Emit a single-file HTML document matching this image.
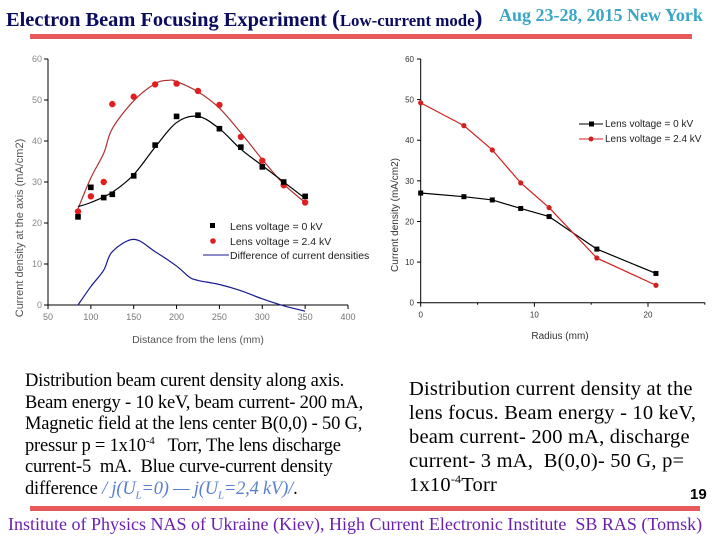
<!DOCTYPE html>
<html><head><meta charset="utf-8"><style>
body{margin:0;width:720px;height:540px;background:#fff;position:relative;overflow:hidden;font-family:"Liberation Serif",serif}
.abs{position:absolute;margin:0}
sup,sub{line-height:0}
</style></head><body>
<div class="abs" style="left:6px;top:6px;font-weight:bold;color:#0a0a5e;font-size:20px;white-space:nowrap;transform:scaleX(1.02);transform-origin:left top">Electron Beam Focusing Experiment <span style="font-size:23px">(</span><span style="font-size:16.5px">Low-current mode</span><span style="font-size:23px">)</span></div>
<div class="abs" style="left:499px;top:5px;font-weight:bold;color:#3aa6c8;font-size:18px;white-space:nowrap">Aug 23-28, 2015 New York</div>
<div class="abs" style="left:30px;top:34px;width:662px;height:5px;background:#e85a5a"></div>

<svg class="abs" style="left:0;top:45px" width="720" height="310">
<g id="left"></g>
<g id="right"></g>
</svg>

<div class="abs" style="left:25px;top:371px;font-size:18.5px;line-height:21.6px;color:#000;white-space:nowrap;letter-spacing:-0.2px">Distribution beam curent density along axis.<br>Beam energy - 10 keV, beam current- 200 mA,<br>Magnetic field at the lens center B(0,0) - 50 G,<br>pressur p = 1x10<sup style="font-size:11px">-4</sup> &nbsp; Torr, The lens discharge<br>current-5 &nbsp;mA. &nbsp;Blue curve-current density<br>difference <i style="color:#5a7fd0">/ j(U<sub style="font-size:11px">L</sub>=0) — j(U<sub style="font-size:11px">L</sub>=2,4 kV)/</i>.</div>
<div class="abs" style="left:409px;top:377px;font-size:20.5px;line-height:24px;color:#000;white-space:nowrap;letter-spacing:0.2px">Distribution current density at the<br>lens focus. Beam energy - 10 keV,<br>beam current- 200 mA, discharge<br>current- 3 mA, &nbsp;B(0,0)- 50 G, p=<br>1x10<sup style="font-size:12px">-4</sup>Torr</div>
<div class="abs" style="left:690px;top:486px;font-family:'Liberation Sans',sans-serif;font-weight:bold;font-size:15px">19</div>
<div class="abs" style="left:30px;top:506px;width:670px;height:5px;background:#e85a5a"></div>
<div class="abs" style="left:8px;top:514px;font-size:18px;color:#6a1fb0;white-space:nowrap">Institute of Physics NAS of Ukraine (Kiev), High Current Electronic Institute &nbsp;SB RAS (Tomsk)</div>

<script>
const NS='http://www.w3.org/2000/svg';
// Left chart data
const axialX=[85,100,115,125,150,175,200,225,250,275,300,325,350];
const axialBlack=[21.5,28.7,26.2,27,31.5,39,46,46.3,43,38.5,33.7,30,26.5];
const axialRed=[22.8,26.5,30,49,50.8,53.8,54,52.2,48.8,41,35.2,29.2,25];
const fitBlackX=[85,100,125,150,175,200,225,250,275,300,325,350];
const fitBlackY=[24,25,27.5,31.8,38.5,44.5,46,43,38,34,30,26];
const fitRedX=[85,100,115,125,150,175,190,200,225,250,275,300,325,350];
const fitRedY=[23.5,31,37,43,49.8,54,54.8,54.5,52,48,42,35.5,29.5,25];
const diffX=[85,100,115,125,150,175,200,215,225,250,275,300,325,350];
const diffY=[0,4.5,8.5,13,16,13,9.5,6.8,6,5,3.5,1.5,-0.2,-1.5];
const leftXTicks=[50,100,150,200,250,300,350,400];
const leftYTicks=[0,10,20,30,40,50,60];
// Right chart data
const radX=[0,3.8,6.3,8.8,11.3,15.5,20.7];
const radBlack=[27,26.1,25.3,23.2,21.2,13.2,7.2];
const radRed=[49.2,43.6,37.6,29.5,23.4,11,4.3];
const rightXTicks=[0,10,20];
const rightYTicks=[0,10,20,30,40,50,60];

function mk(p,t,a,txt){const e=document.createElementNS(NS,t);for(const k in a)e.setAttribute(k,a[k]);if(txt!==undefined)e.textContent=txt;p.appendChild(e);return e;}
const F='Liberation Sans, sans-serif';

function smooth(xs,ys,fx,fy){const P=xs.map((x,i)=>[fx(x),fy(ys[i])]);let d='M'+P[0][0]+','+P[0][1];for(let i=0;i<P.length-1;i++){const p0=P[i-1]||P[i],p1=P[i],p2=P[i+1],p3=P[i+2]||p2;const c1=[p1[0]+(p2[0]-p0[0])/6,p1[1]+(p2[1]-p0[1])/6],c2=[p2[0]-(p3[0]-p1[0])/6,p2[1]-(p3[1]-p1[1])/6];d+=' C'+c1+' '+c2+' '+p2;}return d;}

const L=document.getElementById('left');
const lx=v=>48+(v-50)*300/350, ly=v=>260-v*246/60;
let e=mk(L,'line',{x1:48,y1:ly(0),x2:48,y2:ly(60),stroke:'#000'});
e=mk(L,'line',{x1:48,y1:ly(0),x2:348,y2:ly(0),stroke:'#000'});
leftYTicks.forEach(t=>{mk(L,'line',{x1:44,x2:48,y1:ly(t),y2:ly(t),stroke:'#000'});const e=mk(L,'text',{x:42,y:ly(t)+3,'font-size':9,'text-anchor':'end',fill:'#888','font-family':F},t);});
leftXTicks.forEach(t=>{mk(L,'line',{x1:lx(t),x2:lx(t),y1:ly(0),y2:ly(0)+4,stroke:'#000'});const e=mk(L,'text',{x:lx(t),y:ly(0)+15,'font-size':9,'text-anchor':'middle',fill:'#777','font-family':F},t);});
e=mk(L,'text',{x:0,y:0,transform:'translate(23,183) rotate(-90)','font-size':11,'text-anchor':'middle',fill:'#555','font-family':F},'Current density at the axis (mA/cm2)');
e=mk(L,'text',{x:198,y:298,'font-size':10.5,'text-anchor':'middle',fill:'#555','font-family':F},'Distance from the lens (mm)');
function sp(g,xs,ys,fx,fy,col,w,name){const p=mk(g,'path',{d:smooth(xs,ys,fx,fy),fill:'none',stroke:col,'stroke-width':w});}
function pl(g,xs,ys,fx,fy,col,w,name){const p=mk(g,'polyline',{points:xs.map((x,i)=>fx(x)+','+fy(ys[i])).join(' '),fill:'none',stroke:col,'stroke-width':w,'stroke-linejoin':'round'});}
sp(L,fitRedX,fitRedY,lx,ly,'#b03030',1.2,'red-fit-curve');
sp(L,fitBlackX,fitBlackY,lx,ly,'#000',1.2,'black-fit-curve');
sp(L,diffX,diffY,lx,ly,'#1a1a90',1.2,'difference-curve');
axialRed.forEach((v,i)=>{const c=mk(L,'circle',{cx:lx(axialX[i]),cy:ly(v),r:3.2,fill:'#e02020'});});
axialBlack.forEach((v,i)=>{const r=mk(L,'rect',{x:lx(axialX[i])-2.8,y:ly(v)-2.8,width:5.6,height:5.6,fill:'#000'});});
mk(L,'rect',{x:210,y:178,width:5,height:5,fill:'#000'});
e=mk(L,'text',{x:230,y:185,'font-size':10.5,fill:'#222','font-family':F},'Lens voltage = 0 kV');
mk(L,'circle',{cx:213,cy:196,r:2.8,fill:'#e02020'});
e=mk(L,'text',{x:230,y:200,'font-size':10.5,fill:'#222','font-family':F},'Lens voltage = 2.4 kV');
mk(L,'line',{x1:203,x2:229,y1:210,y2:210,stroke:'#1a1a90'});
e=mk(L,'text',{x:230,y:214,'font-size':10.5,fill:'#222','font-family':F},'Difference of current densities');

const R=document.getElementById('right');
const rx=v=>420.7+v*227.3/20, ry=v=>257.7-v*243.7/60;
e=mk(R,'line',{x1:420.7,y1:ry(0),x2:420.7,y2:ry(60),stroke:'#000'});
e=mk(R,'line',{x1:420.7,y1:ry(0),x2:rx(25),y2:ry(0),stroke:'#000'});
rightYTicks.forEach(t=>{mk(R,'line',{x1:417,x2:420.7,y1:ry(t),y2:ry(t),stroke:'#000'});const e=mk(R,'text',{x:414,y:ry(t)+3,'font-size':8,'text-anchor':'end',fill:'#333','font-family':F},t);});
[0,5,10,15,20,25].forEach(t=>mk(R,'line',{x1:rx(t),x2:rx(t),y1:ry(0),y2:ry(0)+(t%10==0?4:2),stroke:'#000'}));
rightXTicks.forEach(t=>{const e=mk(R,'text',{x:rx(t),y:ry(0)+15,'font-size':8,'text-anchor':'middle',fill:'#333','font-family':F},t);});
e=mk(R,'text',{x:0,y:0,transform:'translate(398,170) rotate(-90)','font-size':10,'text-anchor':'middle',fill:'#333','font-family':F},'Current density (mA/cm2)');
e=mk(R,'text',{x:560,y:294,'font-size':10,'text-anchor':'middle',fill:'#333','font-family':F},'Radius (mm)');
pl(R,radX,radBlack,rx,ry,'#000',1.2,'black-radial-line');
pl(R,radX,radRed,rx,ry,'#d02020',1.2,'red-radial-line');
radBlack.forEach((v,i)=>{const r=mk(R,'rect',{x:rx(radX[i])-2.5,y:ry(v)-2.5,width:5,height:5,fill:'#000'});});
radRed.forEach((v,i)=>{const c=mk(R,'circle',{cx:rx(radX[i]),cy:ry(v),r:2.6,fill:'#d02020'});});
mk(R,'line',{x1:579,x2:603,y1:79,y2:79,stroke:'#000'});mk(R,'rect',{x:589,y:76.5,width:5,height:5,fill:'#000'});
e=mk(R,'text',{x:605,y:82,'font-size':10,fill:'#222','font-family':F},'Lens voltage = 0 kV');
mk(R,'line',{x1:579,x2:603,y1:94,y2:94,stroke:'#d02020'});mk(R,'circle',{cx:591,cy:94,r:2.5,fill:'#d02020'});
e=mk(R,'text',{x:605,y:97,'font-size':10,fill:'#222','font-family':F},'Lens voltage = 2.4 kV');
</script>
</body></html>
